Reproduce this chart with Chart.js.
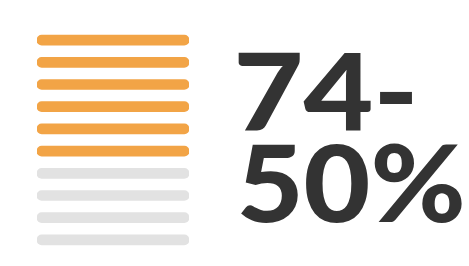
<!DOCTYPE html>
<html>
<head>
<meta charset="utf-8">
<script src="https://cdn.jsdelivr.net/npm/chart.js@4.4.1/dist/chart.umd.min.js"></script>
<style>
  html, body { margin: 0; padding: 0; background: #fff; }
  #wrap { width: 469px; height: 266px; position: relative; }
</style>
</head>
<body>
<div id="wrap"><canvas id="chart"></canvas></div>
<script>
  // ten rows, the first six are the highlighted share
  const rows = ['1', '2', '3', '4', '5', '6', '7', '8', '9', '10'];
  const rowValues = [1, 1, 1, 1, 1, 1, 1, 1, 1, 1];
  const rowFilled = [true, true, true, true, true, true, false, false, false, false];
  const headline = ['74-', '50%'];

  const ORANGE = '#f2a446';
  const GREY = '#e2e2e2';
  const INK = '#333333';

  // big headline drawn next to the bars
  const headlinePlugin = {
    id: 'headline',
    afterDraw(chart) {
      const ctx = chart.ctx;
      const lines = [
        { text: headline[0], x: 238, y: 130, w: 175 },
        { text: headline[1], x: 241, y: 222, w: 221 },
      ];
      ctx.save();
      ctx.fillStyle = INK;
      ctx.textBaseline = 'alphabetic';
      ctx.textAlign = 'left';
      ctx.font = '900 107px Lato';
      lines.forEach(l => {
        const m = ctx.measureText(l.text);
        const sx = l.w / (m.actualBoundingBoxRight + m.actualBoundingBoxLeft);
        ctx.save();
        ctx.translate(l.x, l.y);
        ctx.scale(sx, 1);
        ctx.fillText(l.text, m.actualBoundingBoxLeft, 0);
        ctx.restore();
      });
      ctx.restore();
    }
  };

  new Chart(document.getElementById('chart'), {
    type: 'bar',
    data: {
      labels: rows,
      datasets: [{
        data: rowValues,
        backgroundColor: rowFilled.map(f => f ? ORANGE : GREY),
        borderRadius: 5,
        borderSkipped: false,
        barThickness: 10,
      }]
    },
    options: {
      indexAxis: 'y',
      responsive: true,
      maintainAspectRatio: false,
      animation: false,
      layout: { padding: { left: 37, right: 280, top: 29, bottom: 15 } },
      scales: {
        x: { display: false, min: 0, max: 1 },
        y: { display: false }
      },
      plugins: {
        legend: { display: false },
        tooltip: { enabled: false }
      }
    },
    plugins: [headlinePlugin]
  });
</script>
</body>
</html>
